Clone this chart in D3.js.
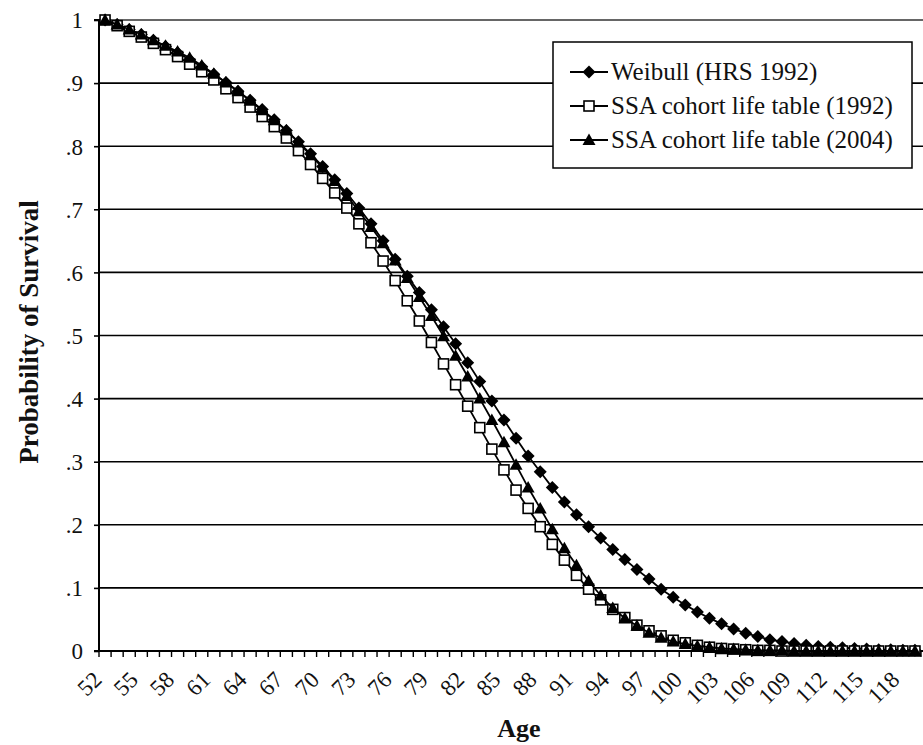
<!DOCTYPE html>
<html>
<head>
<meta charset="utf-8">
<script src="https://cdn.jsdelivr.net/npm/d3@7/dist/d3.min.js"></script>
<style>
  html, body { margin: 0; padding: 0; background: #fff; }
  svg { display: block; }
</style>
</head>
<body>
<svg id="chart" width="923" height="745"></svg>
<script>
const ages = d3.range(52, 120);

const weibull = [
  1.000, 0.993, 0.985, 0.977, 0.968, 0.958, 0.948, 0.937, 0.926, 0.914,
  0.901, 0.887, 0.873, 0.858, 0.842, 0.825, 0.807, 0.788, 0.768, 0.747,
  0.725, 0.702, 0.677, 0.650, 0.621, 0.594, 0.568, 0.541, 0.514, 0.487,
  0.457, 0.427, 0.396, 0.366, 0.337, 0.309, 0.284, 0.259, 0.236, 0.216,
  0.197, 0.179, 0.161, 0.145, 0.129, 0.114, 0.098, 0.085, 0.073, 0.062,
  0.052, 0.043, 0.035, 0.028, 0.023, 0.018, 0.015, 0.012, 0.009, 0.007,
  0.006, 0.005, 0.004, 0.003, 0.002, 0.002, 0.001, 0.001
];

const ssa1992 = [
  1.000, 0.991, 0.982, 0.973, 0.963, 0.953, 0.942, 0.930, 0.918, 0.905,
  0.891, 0.877, 0.862, 0.847, 0.831, 0.813, 0.793, 0.771, 0.749, 0.726,
  0.702, 0.677, 0.647, 0.618, 0.587, 0.555, 0.523, 0.489, 0.455, 0.422,
  0.388, 0.354, 0.320, 0.287, 0.255, 0.226, 0.197, 0.169, 0.144, 0.120,
  0.098, 0.081, 0.066, 0.053, 0.041, 0.032, 0.024, 0.017, 0.013, 0.009,
  0.006, 0.004, 0.003, 0.002, 0.001, 0.001, 0.000, 0.000, 0.000, 0.000,
  0.000, 0.000, 0.000, 0.000, 0.000, 0.000, 0.000, 0.000
];

const ssa2004 = [
  1.000, 0.993, 0.985, 0.977, 0.968, 0.959, 0.950, 0.940, 0.928, 0.915,
  0.901, 0.887, 0.872, 0.857, 0.841, 0.825, 0.806, 0.786, 0.766, 0.745,
  0.721, 0.697, 0.672, 0.646, 0.619, 0.591, 0.561, 0.531, 0.499, 0.468,
  0.435, 0.400, 0.366, 0.331, 0.295, 0.259, 0.226, 0.193, 0.163, 0.136,
  0.111, 0.088, 0.068, 0.052, 0.040, 0.029, 0.021, 0.015, 0.011, 0.008,
  0.006, 0.004, 0.003, 0.002, 0.001, 0.001, 0.001, 0.000, 0.000, 0.000,
  0.000, 0.000, 0.000, 0.000, 0.000, 0.000, 0.000, 0.000
];

const yTicks = [0, 0.1, 0.2, 0.3, 0.4, 0.5, 0.6, 0.7, 0.8, 0.9, 1];
const yTickLabels = ["0", ".1", ".2", ".3", ".4", ".5", ".6", ".7", ".8", ".9", "1"];
const xLabelAges = d3.range(52, 120, 3);
const seriesNames = ["Weibull (HRS 1992)", "SSA cohort life table (1992)", "SSA cohort life table (2004)"];
const seriesValues = [weibull, ssa1992, ssa2004];
const markerTypes = ["diamond", "square", "triangle"];

const FONT = "'Liberation Serif', 'Times New Roman', Times, serif";
const svg = d3.select("#chart");
const mLeft = 99, mRight = 921, mTop = 20, mBottom = 651;

const x = d3.scaleBand().domain(ages).range([mLeft, mRight]).padding(0);
const y = d3.scaleLinear().domain([0, 1]).range([mBottom, mTop]);
const cx = a => x(a) + x.bandwidth() / 2;

// gridlines
svg.append("g").selectAll("line").data(yTicks.filter(t => t > 0)).join("line")
  .attr("x1", mLeft).attr("x2", 923)
  .attr("y1", d => y(d)).attr("y2", d => y(d))
  .attr("stroke", (d) => d === 1 ? "#333" : "#000").attr("stroke-width", 1.6);

// Y axis
const yAxis = d3.axisLeft(y).tickValues(yTicks).tickSize(5)
  .tickFormat((d, i) => yTickLabels[i]);
const gy = svg.append("g").attr("transform", `translate(${mLeft},0)`).call(yAxis)
  .attr("font-family", null).attr("font-size", null);
gy.select(".domain").attr("stroke", "#000").attr("stroke-width", 2).attr("d", `M-5,${mTop}H0V${mBottom}`);
gy.selectAll(".tick line").attr("stroke", "#000").attr("stroke-width", 1.6);
gy.selectAll(".tick text").attr("x", -16).attr("dy", "0.34em")
  .style("font-family", FONT).style("font-size", "23px").style("fill", "#111");

// X axis
svg.append("line").attr("x1", mLeft - 5).attr("x2", 923).attr("y1", mBottom).attr("y2", mBottom)
  .attr("stroke", "#000").attr("stroke-width", 2);
svg.append("g").selectAll("line").data(ages.concat([120])).join("line")
  .attr("x1", d => d === 120 ? mRight : x(d)).attr("x2", d => d === 120 ? mRight : x(d))
  .attr("y1", mBottom).attr("y2", mBottom + 6)
  .attr("stroke", "#000").attr("stroke-width", 1.4);
svg.append("g").selectAll("text").data(xLabelAges).join("text")
  .attr("transform", d => `translate(${cx(d) - 2},${681}) rotate(-45)`)
  .attr("text-anchor", "end")
  .style("font-family", FONT).style("font-size", "23px").style("fill", "#111")
  .text(d => d);

// axis titles
svg.append("text").attr("transform", `translate(38,332) rotate(-90)`)
  .attr("text-anchor", "middle")
  .style("font-family", FONT).style("font-size", "27px").style("font-weight", "bold").style("fill", "#111")
  .text("Probability of Survival");
svg.append("text").attr("x", 519).attr("y", 737)
  .attr("text-anchor", "middle")
  .style("font-family", FONT).style("font-size", "26px").style("font-weight", "bold").style("fill", "#111")
  .text("Age");

// markers
function drawMarker(g, type, px, py) {
  if (type === "diamond") {
    g.append("path").attr("d", `M${px},${py - 6.5}L${px + 6.5},${py}L${px},${py + 6.5}L${px - 6.5},${py}Z`)
      .attr("fill", "#000");
  } else if (type === "square") {
    g.append("rect").attr("x", px - 5).attr("y", py - 5).attr("width", 10).attr("height", 10)
      .attr("fill", "#fff").attr("stroke", "#000").attr("stroke-width", 1.6);
  } else {
    g.append("path").attr("d", `M${px},${py - 6.5}L${px + 6.5},${py + 5}L${px - 6.5},${py + 5}Z`)
      .attr("fill", "#000");
  }
}

const line = d3.line().x((d, i) => cx(ages[i])).y(d => y(d));
const plot = svg.append("g");
seriesValues.forEach((vals, si) => {
  const g = plot.append("g");
  g.append("path").datum(vals).attr("d", line)
    .attr("fill", "none").attr("stroke", "#000").attr("stroke-width", 1.8);
  vals.forEach((v, i) => drawMarker(g, markerTypes[si], cx(ages[i]), y(v)));
});

// legend
const lg = svg.append("g");
lg.append("rect").attr("x", 553).attr("y", 42).attr("width", 359).attr("height", 126)
  .attr("fill", "#fff").attr("stroke", "#000").attr("stroke-width", 1.5);
seriesNames.forEach((name, i) => {
  const ry = 72 + i * 34;
  lg.append("line").attr("x1", 570).attr("x2", 608).attr("y1", ry).attr("y2", ry)
    .attr("stroke", "#000").attr("stroke-width", 1.8);
  drawMarker(lg, markerTypes[i], 589, ry);
  lg.append("text").attr("x", 611).attr("y", ry + 8)
    .style("font-family", FONT).style("font-size", "25px").style("fill", "#111").text(name);
});
</script>
</body>
</html>
